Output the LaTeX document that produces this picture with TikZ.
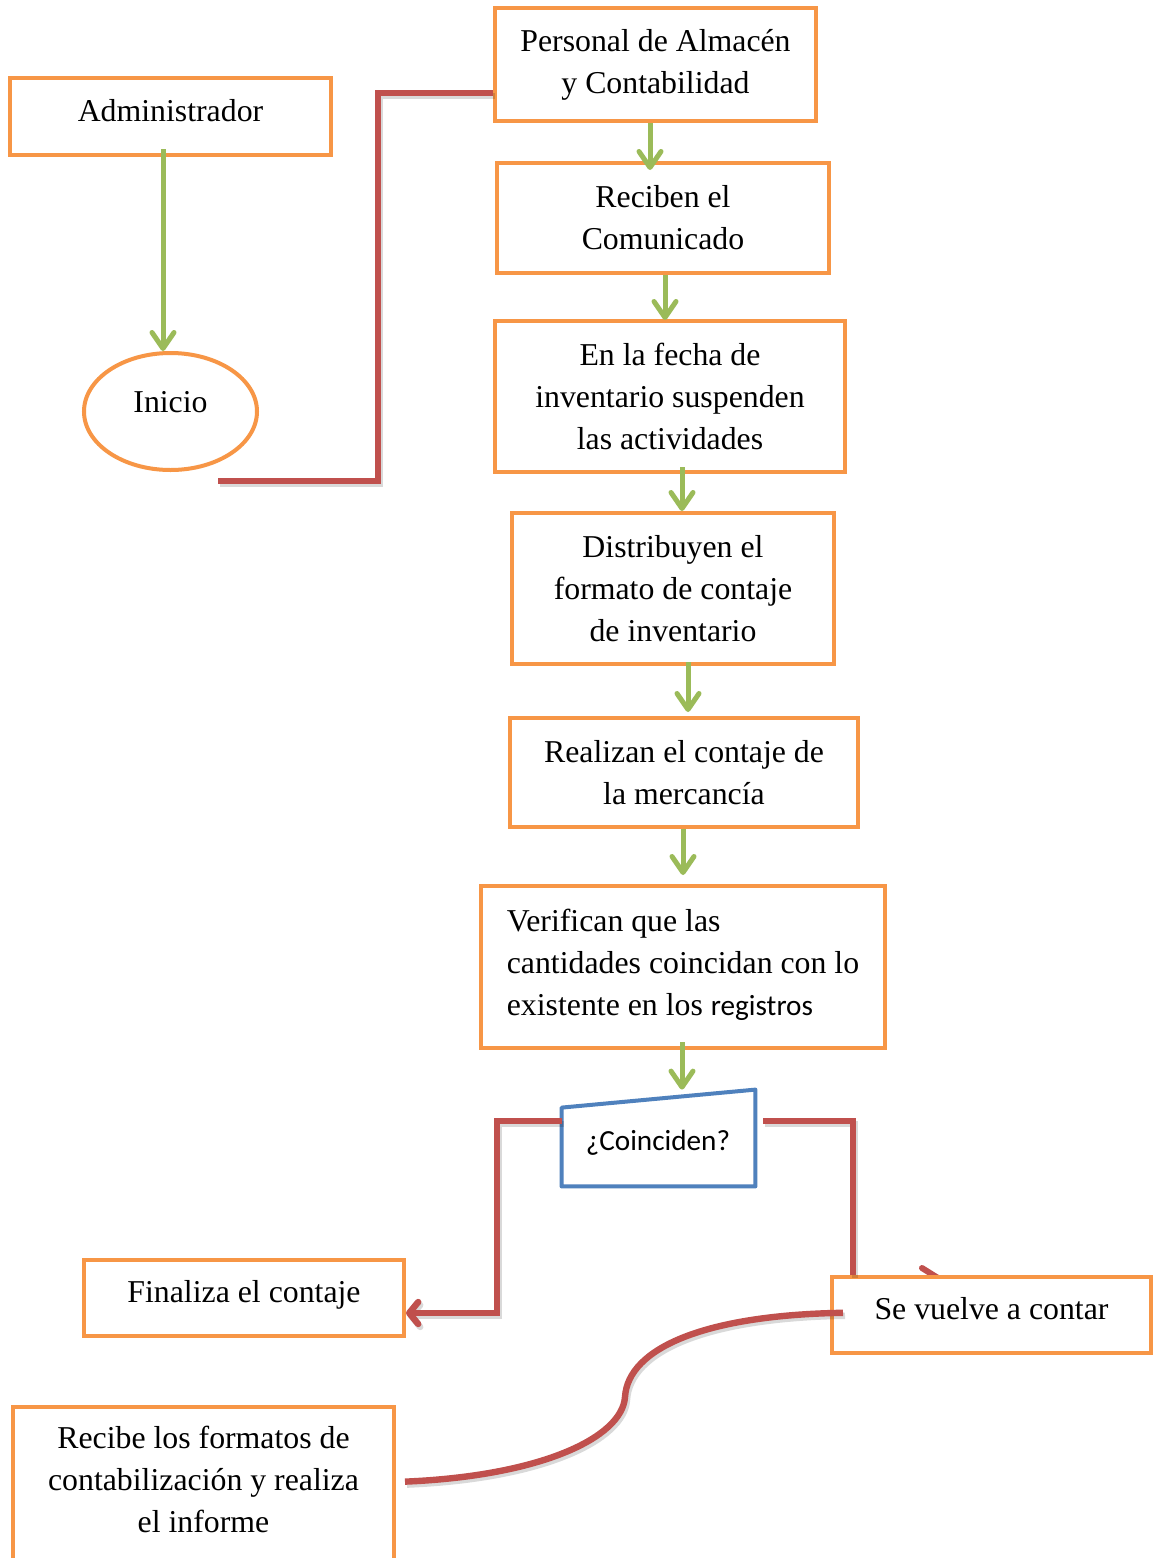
\documentclass[tikz,border=0pt]{standalone}
\usepackage{fontspec}
\setmainfont{Liberation Serif}
\newfontfamily\calfont{Carlito}
\usetikzlibrary{arrows.meta,shapes.geometric}
\definecolor{oorange}{HTML}{F79646}
\definecolor{ogreen}{HTML}{9BBB59}
\definecolor{ored}{HTML}{C0504D}
\definecolor{oblue}{HTML}{4F81BD}
\begin{document}
\begin{tikzpicture}[x=0.5pt,y=-0.5pt,
  box/.style={draw=oorange, line width=2pt, fill=white, rectangle, inner sep=0pt, align=center, font=\fontsize{15.9pt}{21pt}\selectfont},
  oval/.style={draw=oorange, line width=2pt, fill=white, ellipse, inner sep=0pt, font=\fontsize{15.9pt}{21pt}\selectfont},
  txt/.style={inner sep=0pt, align=center, font=\fontsize{15.9pt}{21pt}\selectfont},
  garrow/.style={draw=ogreen, line width=2.5pt, -{Straight Barb[length=8pt,width=11pt,line cap=round,line join=round]}},
  rline/.style={draw=ored, line width=3.2pt, preaction={draw=black, opacity=0.15, line width=3.2pt, transform canvas={xshift=1pt,yshift=-1.5pt}}},
  rarrow/.style={rline, -{Straight Barb[length=4.5pt,width=11pt,line cap=round,line join=round]}},
]
\useasboundingbox (0,0) rectangle (1153,1558);
\clip (0,0) rectangle (1153,1558);
\fill[white] (0,0) rectangle (1153,1558);

% small stray red mark behind the box
\draw[draw=ored, line width=3pt, line cap=round] (922,1268) -- (938,1278);

% boxes
\node[box, minimum width=160.5pt, minimum height=38.5pt, text height=11pt, text depth=6pt] (adm) at (170.5,116.5) {Administrador};
\node[oval, minimum width=86.5pt, minimum height=58.5pt, text height=11pt, text depth=10pt] (ini) at (170.5,411.5) {Inicio};
\node[box, minimum width=160.5pt, minimum height=56.5pt, yshift=0.5pt] (per) at (655.5,65.5) {Personal de Almacén\\y Contabilidad};
\node[box, minimum width=166pt, minimum height=55pt] (rec) at (663,218) {Reciben el\\Comunicado};
\node[box, minimum width=175pt, minimum height=75.5pt] (fec) at (670,396.5) {En la fecha de\\inventario suspenden\\las actividades};
\node[box, minimum width=161pt, minimum height=75.5pt] (dis) at (673,588.5) {Distribuyen el\\formato de contaje\\de inventario};
\node[box, minimum width=174pt, minimum height=54.5pt] (rea) at (684,772.5) {Realizan el contaje de\\la mercancía};
\node[box, align=left, minimum width=202pt, minimum height=81pt, text depth=5pt] (ver) at (683,967) {Verifican que las\\cantidades coincidan con lo\\existente en los {\calfont\fontsize{14.6pt}{21pt}\selectfont registros}};
\node[box, minimum width=160pt, minimum height=38pt, text height=11pt, text depth=6.5pt] (fin) at (244,1298) {Finaliza el contaje};
\node[box, minimum width=159.5pt, minimum height=38pt, text height=11pt, text depth=6.5pt] (sev) at (991.5,1315) {Se vuelve a contar};
\node[box, anchor=north, minimum width=190.5pt, minimum height=110pt] (reb) at (203.5,1405) {};
\node[txt] (rebt) at (203.5,1479) {Recibe los formatos de\\contabilización y realiza\\el informe};

% decision
\node[minimum width=96.5pt, minimum height=48pt, inner sep=0pt] (dec) at (658.5,1138) {};
\draw[draw=oblue, fill=white, line width=2pt, line join=round] (dec.south west) -- (dec.south east) -- (dec.north east) -- ([yshift=-9pt]dec.north west) -- cycle;
\node[inner sep=0pt, font=\calfont\fontsize{14.6pt}{18pt}\selectfont] (dect) at (658,1143) {¿Coinciden?};

% green arrows
\draw[garrow, shorten <=-4pt] (adm.south -| 163,0) -- (ini.north -| 163,0);
\draw[garrow, shorten >=-4.5pt] (per.south -| 650,0) -- (rec.north -| 650,0);
\draw[garrow, shorten >=-0.5pt] (rec.south -| 665,0) -- (fec.north -| 665,0);
\draw[garrow, shorten <=-3.5pt] (fec.south -| 682,0) -- (dis.north -| 682,0);
\draw[garrow, shorten <=-2pt, shorten >=2pt] (dis.south -| 688,0) -- (rea.north -| 688,0);
\draw[garrow, shorten >=4.5pt] (rea.south -| 683,0) -- (ver.north -| 683,0);
\draw[garrow, shorten <=-4pt] (ver.south -| 682,0) -- (dec.north -| 682,0);

% red connectors
\coordinate (ia) at (218,481);
\draw[rline] (ia) -| (378,93) -- (per.west |- 0,93);
\draw[rarrow] (dec.west |- 0,1121) -| (497,1313) -- (fin.east |- 0,1313);
\draw[rline, shorten <=4pt] (dec.east |- 0,1121) -| (sev.north -| 853,0);
\draw[rline, shorten <=4.5pt, shorten >=-6.5pt] (reb.east |- 0,1482) .. controls (540,1476) and (622,1438) .. (625,1397) .. controls (628,1348) and (705,1315) .. (sev.west |- 0,1313);
\end{tikzpicture}
\end{document}
